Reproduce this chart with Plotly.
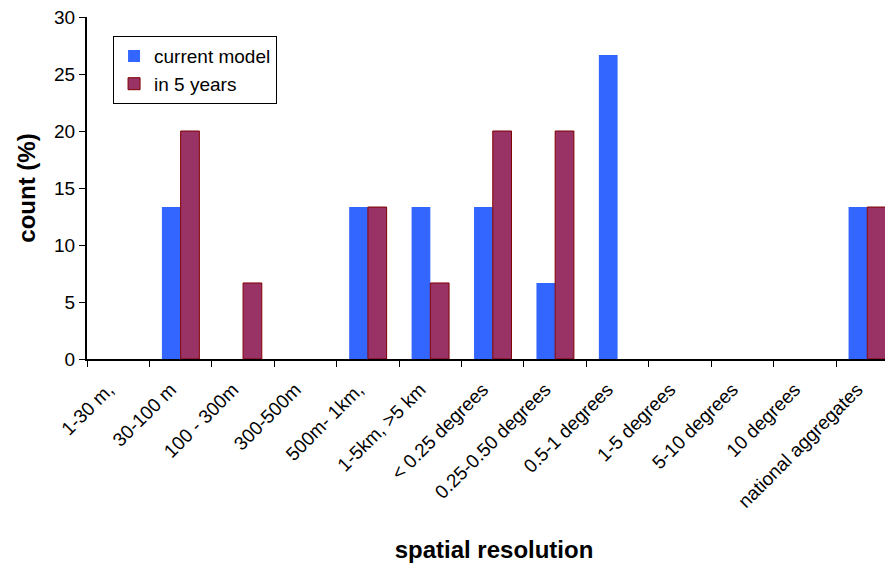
import plotly.graph_objects as go

categories = ["1-30 m,", "30-100 m", "100 - 300m", "300-500m", "500m- 1km,",
              "1-5km, >5 km", "< 0.25 degrees", "0.25-0.50 degrees", "0.5-1 degrees",
              "1-5 degrees", "5-10 degrees", "10 degrees", "national aggregates"]
current_model = [0, 13.33, 0, 0, 13.33, 13.33, 13.33, 6.67, 26.67, 0, 0, 0, 13.33]
in_5_years = [0, 20, 6.67, 0, 13.33, 6.67, 20, 20, 0, 0, 0, 0, 13.33]

font = "Liberation Sans, Arial, sans-serif"


def no_zero(vals):
    # zero bars would still show their outline as a flat line
    return [v if v else None for v in vals]


fig = go.Figure()
fig.add_trace(go.Bar(x=categories, y=no_zero(current_model), name="current model",
                     legendgroup="a",
                     marker=dict(color="#3366FF", line=dict(width=0))))
fig.add_trace(go.Bar(x=categories, y=no_zero(in_5_years), name="in 5 years",
                     legendgroup="b",
                     marker=dict(color="#993366", line=dict(color="#800000", width=1))))

# page body adds an 8px offset, margins compensate for it
fig.update_layout(
    width=893, height=568,
    margin=dict(l=79, r=0, t=9, b=217, autoexpand=False),
    paper_bgcolor="white", plot_bgcolor="white",
    barmode="group", bargap=0.4, bargroupgap=0,
    font=dict(family=font, size=19, color="black"),
    showlegend=True,
    legend=dict(x=0.032, y=0.944, xanchor="left", yanchor="top",
                bordercolor="black", borderwidth=1, bgcolor="white",
                font=dict(size=19), itemwidth=30, tracegroupgap=5,
                traceorder="normal"),
)
fig.update_xaxes(
    range=[-0.5, 12.54], showline=True, linecolor="black", linewidth=2,
    ticks="outside", tickson="boundaries", ticklen=6, tickcolor="black",
    tickangle=-45, tickfont=dict(size=19), showgrid=False, automargin=False,
    ticklabelstandoff=10, ticklabelshift=-10,
    title=dict(text="<b>spatial resolution</b>", font=dict(size=24), standoff=30),
)
fig.update_yaxes(
    range=[0, 30], dtick=5, showline=True, linecolor="black", linewidth=2,
    ticks="outside", ticklen=6, tickcolor="black", tickfont=dict(size=19),
    ticklabeloverflow="allow",
    showgrid=False, zeroline=False, automargin=False,
    title=dict(text="<b>count (%)</b>", font=dict(size=24), standoff=12),
)

fig.write_html("out.html")
